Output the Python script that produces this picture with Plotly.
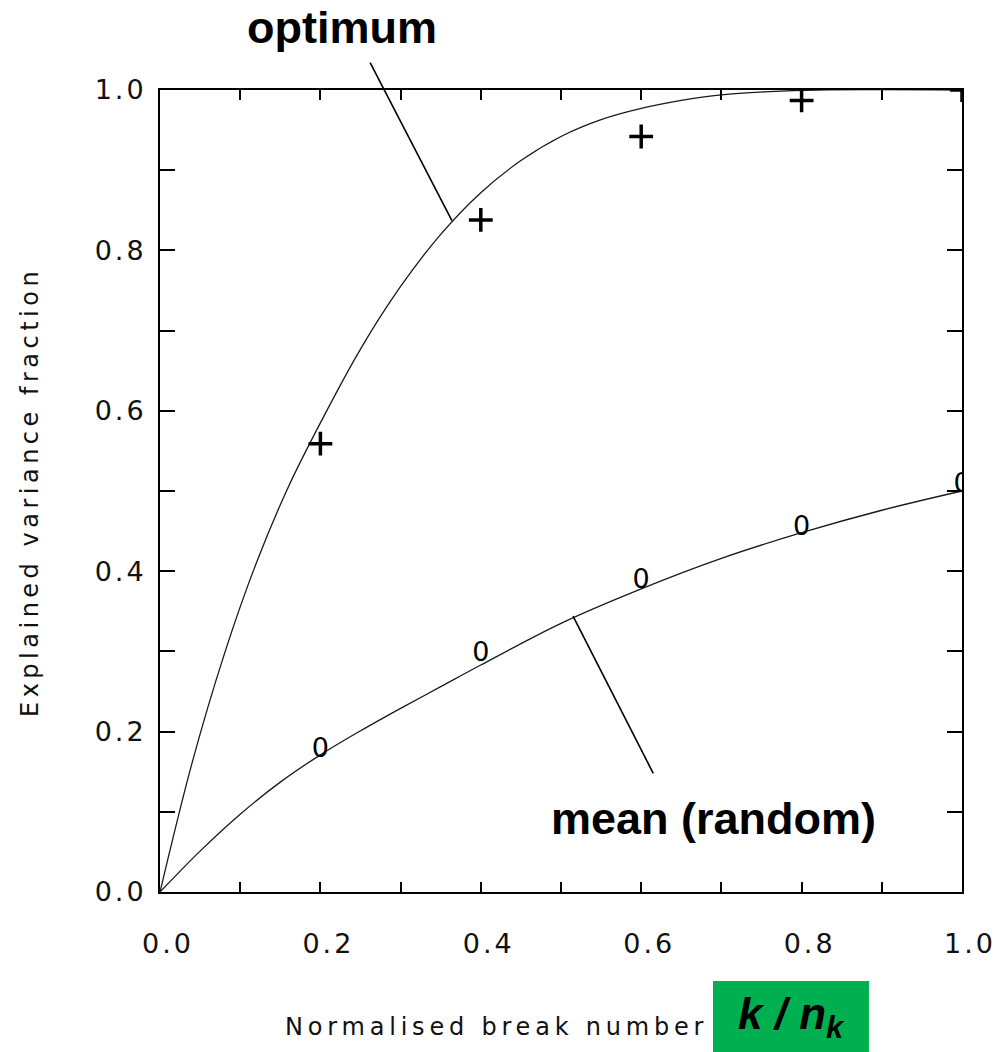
import plotly.graph_objects as go

# Sample points (normalised break number) and explained variance fraction
sample_x = [0.2, 0.4, 0.6, 0.8, 1.0]
optimum_pts = [0.559, 0.838, 0.942, 0.987, 1.0]
random_pts = [0.177, 0.296, 0.387, 0.453, 0.507]

# Smooth fitted curves, read along their length
opt_curve_x = [0.0, 0.04, 0.08, 0.12, 0.16, 0.20, 0.25, 0.30, 0.35, 0.40,
               0.45, 0.50, 0.55, 0.60, 0.65, 0.70, 0.76, 0.82, 1.0]
opt_curve_y = [0.0, 0.161, 0.296, 0.410, 0.505, 0.585, 0.677, 0.755, 0.820, 0.872,
               0.912, 0.942, 0.963, 0.977, 0.987, 0.994, 0.998, 1.0, 1.0]
rnd_curve_x = [0.0, 0.05, 0.10, 0.15, 0.20, 0.25, 0.30, 0.35, 0.40,
               0.50, 0.60, 0.70, 0.80, 0.90, 1.0]
rnd_curve_y = [0.0, 0.051, 0.097, 0.137, 0.171, 0.201, 0.229, 0.256, 0.283,
               0.335, 0.378, 0.416, 0.448, 0.476, 0.500]

tick_vals = [0.0, 0.1, 0.2, 0.3, 0.4, 0.5, 0.6, 0.7, 0.8, 0.9, 1.0]
tick_text = ["0.0", "", "0.2", "", "0.4", "", "0.6", "", "0.8", "", "1.0"]

SPACED = "<span style='letter-spacing:3px'>{}</span>"
tick_text_html = [SPACED.format(t) if t else "" for t in tick_text]

PLOT_FONT = "DejaVu Sans, sans-serif"
NOTE_FONT = "Liberation Sans, Arial, sans-serif"

fig = go.Figure()

fig.add_trace(go.Scatter(
    x=opt_curve_x, y=opt_curve_y, mode="lines",
    line=dict(color="#1a1a1a", width=1.3, shape="spline", smoothing=1.0),
    hoverinfo="skip"))
fig.add_trace(go.Scatter(
    x=rnd_curve_x, y=rnd_curve_y, mode="lines",
    line=dict(color="#1a1a1a", width=1.3, shape="spline", smoothing=1.0),
    hoverinfo="skip"))

fig.add_trace(go.Scatter(
    x=sample_x, y=optimum_pts, mode="markers",
    marker=dict(symbol="cross-thin", size=17, line=dict(color="black", width=3.5)),
    cliponaxis=True))
fig.add_trace(go.Scatter(
    x=sample_x, y=random_pts, mode="text", text=["0"] * len(sample_x),
    textposition="middle center",
    textfont=dict(family=PLOT_FONT, size=27, color="black"),
    cliponaxis=True))

axis_common = dict(
    range=[0, 1], tickvals=tick_vals, ticktext=tick_text_html,
    ticks="inside", tickwidth=2, tickcolor="black",
    showline=True, linewidth=2, linecolor="black", mirror="ticks",
    showgrid=False, zeroline=False, automargin=False,
    ticklabeloverflow="allow",
    tickfont=dict(family=PLOT_FONT, size=27, color="#111"),
)

fig.update_xaxes(**axis_common, ticklen=10, ticklabelstandoff=27, ticklabelshift=8)
fig.update_yaxes(**axis_common, ticklen=15, ticklabelstandoff=6)

# Axis ranges are [0, 1] over the full plot domain, so paper coordinates
# coincide with data coordinates for the leader lines below.
fig.update_layout(
    width=997, height=1052,
    margin=dict(l=160, r=35, t=90, b=160),
    plot_bgcolor="white", paper_bgcolor="white",
    showlegend=False,
    shapes=[
        dict(type="rect", xref="paper", yref="paper",
             x0=0.6895, x1=0.884, y0=-0.2, y1=-0.111,
             fillcolor="#00b050", line=dict(width=0), layer="above"),
        # leader lines from the labels to the curves
        dict(type="line", xref="paper", yref="paper",
             x0=0.262, y0=1.034, x1=0.364, y1=0.837,
             line=dict(color="black", width=1.6)),
        dict(type="line", xref="paper", yref="paper",
             x0=0.615, y0=0.148, x1=0.515, y1=0.344,
             line=dict(color="black", width=1.6)),
    ],
    annotations=[
        dict(x=0.227, y=1.078, xref="paper", yref="paper", text="<b>optimum</b>",
             showarrow=False, xanchor="center", yanchor="middle",
             font=dict(family=NOTE_FONT, size=45, color="black")),
        dict(x=0.69, y=0.092, xref="paper", yref="paper",
             text="<b>mean (random)</b>", showarrow=False,
             xanchor="center", yanchor="middle",
             font=dict(family=NOTE_FONT, size=45, color="black")),
        dict(x=(283 - 160) / 802, y=(892 - 1027) / 802, xref="paper", yref="paper",
             text="<span style='letter-spacing:4.8px'>Normalised break number</span>",
             showarrow=False, xanchor="left", yanchor="middle",
             font=dict(family=PLOT_FONT, size=24, color="#111")),
        dict(x=(30 - 160) / 802, y=(892 - 492) / 802, xref="paper", yref="paper",
             text="<span style='letter-spacing:4.5px'>Explained variance fraction</span>",
             showarrow=False, textangle=-90, xanchor="center", yanchor="middle",
             font=dict(family=PLOT_FONT, size=24, color="#111")),
        dict(x=(791 - 160) / 802, y=(892 - 1017) / 802, xref="paper", yref="paper",
             text="<b><i>k / n<sub>k</sub></i></b>", showarrow=False,
             xanchor="center", yanchor="middle",
             font=dict(family=NOTE_FONT, size=44, color="black")),
    ],
)

fig.write_html("out.html")
